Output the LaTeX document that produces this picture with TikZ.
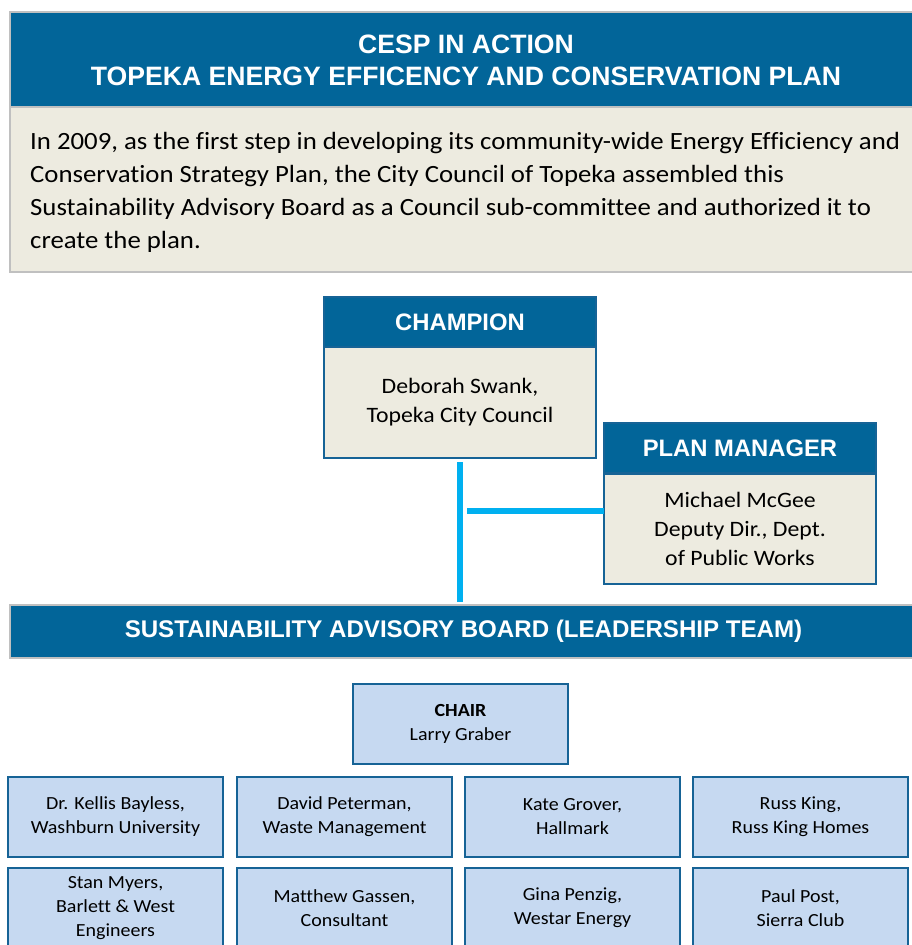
\documentclass[tikz,border=0pt]{standalone}
\usepackage{fontspec}
\setmainfont[FakeStretch=1.08, Ligatures={NoCommon}]{Carlito}
\newfontfamily\hdfont{Liberation Sans}
\definecolor{hdblue}{RGB}{2,101,153}
\definecolor{bdblue}{RGB}{22,99,150}
\definecolor{tan}{RGB}{237,235,224}
\definecolor{ltblue}{RGB}{198,217,241}
\definecolor{graybd}{RGB}{192,192,192}
\definecolor{cyanline}{RGB}{0,176,240}
\tikzset{
  boxbase/.style={anchor=north west, inner sep=0pt, outer sep=0pt},
  hdrbar/.style={boxbase, fill=hdblue, draw=graybd, line width=2pt},
  tanbar/.style={boxbase, fill=tan, draw=graybd, line width=2pt},
  cardhead/.style={boxbase, fill=hdblue, draw=bdblue, line width=2pt, minimum width=272pt, minimum height=50pt,
    text=white, font=\hdfont\bfseries\fontsize{23.8}{28}\selectfont},
  cardbody/.style={boxbase, fill=tan, draw=bdblue, line width=2pt, minimum width=272pt,
    align=center, font=\fontsize{22}{29}\selectfont},
  member/.style={boxbase, fill=ltblue, draw=bdblue, line width=2pt, minimum width=215pt, minimum height=80pt,
    align=center, font=\fontsize{18.5}{24}\selectfont},
  conn/.style={draw=cyanline, line width=5.5pt},
  hdtext/.style={text=white, align=center, inner sep=0pt}
}
\begin{document}
\begin{tikzpicture}[x=1pt,y=-1pt]
\useasboundingbox (0,0) rectangle (912,945);
\clip (0,0) rectangle (912,945);
% title block
\node[tanbar, minimum width=912pt, minimum height=165pt] (descbox) at (10,107) {};
\node[hdrbar, minimum width=912pt, minimum height=95pt] (titlebox) at (10,12) {};
\node[hdtext, font=\hdfont\bfseries\fontsize{26.6}{32}\selectfont] (title) at (466,60)
  {CESP IN ACTION\\TOPEKA ENERGY EFFICENCY AND CONSERVATION PLAN};
\node[anchor=west, align=left, inner sep=0pt, font=\fontsize{24.8}{33}\selectfont] (desc) at (30,192)
  {In 2009, as the first step in developing its community-wide Energy Efficiency and\\
   Conservation Strategy Plan, the City Council of Topeka assembled this\\
   Sustainability Advisory Board as a Council sub-committee and authorized it to\\
   create the plan.};
% champion
\node[cardbody, minimum height=111pt] (champbody) at (324,347) {Deborah Swank,\\Topeka City Council};
\node[cardhead] (champhead) at (324,297) {CHAMPION};
% plan manager
\node[cardbody, minimum height=110pt] (pmbody) at (604,474) {Michael McGee\\Deputy Dir., Dept.\\of Public Works};
\node[cardhead] (pmhead) at (604,423) {PLAN MANAGER};
% SAB bar
\node[hdrbar, minimum width=907pt, minimum height=53pt, text=white,
  font=\hdfont\bfseries\fontsize{24.1}{28}\selectfont] (sab) at (10,605)
  {SUSTAINABILITY ADVISORY BOARD (LEADERSHIP TEAM)};
% connectors
\draw[conn] ([yshift=-4pt]champbody.south) -- ([yshift=3pt]champbody.south |- sab.north);
\coordinate (hj) at (467,511);
\draw[conn] (hj) -- (hj -| pmbody.west);
% chair and members
\node[member] (chair) at (353,684) {\textbf{CHAIR}\\Larry Graber};
\node[member] (m1) at (8,777) {Dr. Kellis Bayless,\\Washburn University};
\node[member] (m2) at (237,777) {David Peterman,\\Waste Management};
\node[member] (m3) at (465,777) {Kate Grover,\\Hallmark};
\node[member] (m4) at (693,777) {Russ King,\\Russ King Homes};
\node[member] (m5) at (8,868) {Stan Myers,\\Barlett \& West\\Engineers};
\node[member] (m6) at (237,868) {Matthew Gassen,\\Consultant};
\node[member] (m7) at (465,868) {Gina Penzig,\\Westar Energy};
\node[member] (m8) at (693,868) {Paul Post,\\Sierra Club};
\end{tikzpicture}
\end{document}
